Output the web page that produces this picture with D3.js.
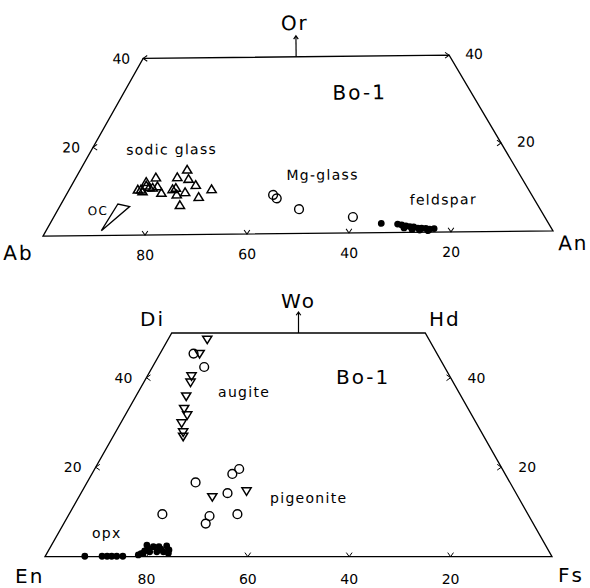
<!DOCTYPE html>
<html>
<head>
<meta charset="utf-8">
<script src="https://cdn.jsdelivr.net/npm/d3@7"></script>
<style>
  body { margin: 0; background: #fff; }
  svg text { font-family: "DejaVu Sans", sans-serif; fill: #000; }
  .apex { font-size: 20px; letter-spacing: 2px; }
  .tick { font-size: 14px; }
  .note { font-size: 14px; letter-spacing: 1.3px; }
  .frame { fill: none; stroke: #000; stroke-width: 1.3; }
</style>
</head>
<body>
<div id="chart"></div>
<script>
// feldspar plot: [Ab, Or] in mol %, An = 100 - Ab - Or
var sodicGlass = [
  [73.7, 11.9], [71.3, 12.9], [75.6, 10.2], [75.5, 9.8], [73.7, 10.7], [73.1, 10.6],
  [72.0, 10.9], [72.0, 9.4], [67.1, 12.9], [64.3, 14.6], [65.1, 12.5], [64.4, 11.1],
  [69.4, 10.2], [68.6, 10.5], [69.2, 9.0], [67.3, 9.5], [65.2, 8.4], [61.8, 10.1],
  [69.8, 6.6], [76.2, 10.2], [74.1, 11.1]
];
var mgGlass = [[50.4, 8.8], [50.1, 8.0], [47.0, 5.5], [37.4, 3.6]];
var feldspar = [
  [32.6, 2.1], [29.5, 1.9], [28.8, 1.7], [28.1, 1.45], [27.4, 1.3], [26.7, 1.2],
  [26.0, 0.95], [25.3, 0.9], [24.5, 0.85], [23.8, 0.7], [22.9, 0.8], [28.7, 1.0],
  [27.3, 0.65], [25.9, 0.5], [24.3, 0.35]
];
var ocField = [[88.0, 1.1], [81.7, 7.1], [79.7, 6.5]];

// pyroxene plot: [En, Wo] in mol %, Fs = 100 - En - Wo
var augiteTri = [
  [43.7, 48.6], [46.8, 45.4], [50.9, 40.4], [51.8, 39.0], [54.2, 35.9],
  [56.0, 33.1], [56.1, 31.7], [58.1, 29.9], [58.8, 27.9], [59.3, 26.9]
];
var augiteCirc = [[48.0, 45.4], [47.4, 42.4]];
var pigeoniteCirc = [
  [62.0, 16.6], [53.8, 18.5], [51.9, 19.6], [56.9, 14.2],
  [63.0, 9.1], [64.6, 7.4], [57.3, 9.5], [72.1, 9.5]
];
var pigeoniteTri = [[60.3, 13.4], [52.9, 14.7]];
var opx = [
  [92.1, 0.1], [88.7, 0.1], [87.7, 0.1], [86.8, 0.1], [85.8, 0.1], [84.6, 0.1],
  [81.4, 0.4], [80.3, 0.75], [78.6, 2.6], [78.8, 1.1], [77.5, 2.25], [77.4, 1.1],
  [76.4, 2.25], [76.1, 1.1], [74.8, 2.4], [75.3, 0.75], [74.8, 1.5], [78.8, 1.85],
  [76.3, 1.7], [80.7, 0.7], [79.7, 1.3]
];

var baseTicks = [80, 60, 40, 20];
var sideTicks = [20, 40];
var pxSideTicks = [20, 40];

var svg = d3.select("#chart").append("svg")
  .attr("width", 590)
  .attr("height", 588);

// scales: x takes (right-apex % + top % / 2), y takes top %
var xTop = d3.scaleLinear().domain([0, 100]).range([43, 553]);
var yTop = d3.scaleLinear().domain([0, 40]).range([233.5, 56.8]);
var xBot = d3.scaleLinear().domain([0, 100]).range([45, 552]);
var yBot = d3.scaleLinear().domain([0, 50]).range([556.7, 333]);

function posTop(d) { return [xTop(100 - d[0] - d[1] / 2), yTop(d[1])]; }
function posBot(d) { return [xBot(100 - d[0] - d[1] / 2), yBot(d[1])]; }

// small arrowhead tick, tip at p, pointing along angle a (degrees)
function arrowHead(p, a, len) {
  len = len || 5;
  var r = a * Math.PI / 180, s = 35 * Math.PI / 180;
  var b1 = [p[0] - len * Math.cos(r - s), p[1] - len * Math.sin(r - s)];
  var b2 = [p[0] - len * Math.cos(r + s), p[1] - len * Math.sin(r + s)];
  return "M" + b1 + "L" + p + "L" + b2;
}

function triUp(g, data, pos) {
  g.selectAll(null).data(data).enter().append("path")
    .attr("d", function(d) {
      var p = pos(d);
      return "M" + [p[0], p[1] - 4.8] + "L" + [p[0] + 4.6, p[1] + 2.9] + "L" + [p[0] - 4.6, p[1] + 2.9] + "Z";
    })
    .attr("fill", "none").attr("stroke", "#000").attr("stroke-width", 1.5);
}
function triDown(g, data, pos) {
  g.selectAll(null).data(data).enter().append("path")
    .attr("d", function(d) {
      var p = pos(d);
      return "M" + [p[0], p[1] + 4.4] + "L" + [p[0] + 4.6, p[1] - 3.1] + "L" + [p[0] - 4.6, p[1] - 3.1] + "Z";
    })
    .attr("fill", "none").attr("stroke", "#000").attr("stroke-width", 1.5);
}
function circles(g, data, pos) {
  g.selectAll(null).data(data).enter().append("circle")
    .attr("cx", function(d) { return pos(d)[0]; })
    .attr("cy", function(d) { return pos(d)[1]; })
    .attr("r", 4.4)
    .attr("fill", "none").attr("stroke", "#000").attr("stroke-width", 1.4);
}
function dots(g, data, pos) {
  g.selectAll(null).data(data).enter().append("circle")
    .attr("cx", function(d) { return pos(d)[0]; })
    .attr("cy", function(d) { return pos(d)[1]; })
    .attr("r", 3.4)
    .attr("fill", "#000");
}

// ---------- top: Ab - An - Or ----------
var topG = svg.append("g").attr("transform", "rotate(-0.6, 298, 234)");

var topFrame = [[100, 0], [0, 0], [0, 40], [60, 40]].map(posTop);
topG.append("path").attr("class", "frame").attr("d", "M" + topFrame.join("L") + "Z");

var topTicks = topG.append("g").attr("fill", "none").attr("stroke", "#000").attr("stroke-width", 1);
baseTicks.forEach(function(v) {
  topTicks.append("path").attr("d", arrowHead(posTop([v, 0]), 90));
  topG.append("text").attr("class", "tick").attr("text-anchor", "middle")
    .attr("x", posTop([v, 0])[0]).attr("y", posTop([v, 0])[1] + 25).text(v);
});
sideTicks.forEach(function(v) {
  var pl = posTop([100 - v, v]), pr = posTop([0, v]);
  topTicks.append("path").attr("d", arrowHead(pl, 180));
  topTicks.append("path").attr("d", arrowHead(pr, 0));
  topG.append("text").attr("class", "tick").attr("text-anchor", "end")
    .attr("x", pl[0] - 13).attr("y", pl[1] + 5).text(v);
  topG.append("text").attr("class", "tick").attr("text-anchor", "start")
    .attr("x", pr[0] + 16).attr("y", pr[1] + 4).text(v);
});

var orX = (topFrame[2][0] + topFrame[3][0]) / 2;
topG.append("line").attr("x1", orX).attr("x2", orX)
  .attr("y1", topFrame[2][1]).attr("y2", topFrame[2][1] - 20)
  .attr("stroke", "#000").attr("stroke-width", 1.2);
topG.append("path").attr("d", arrowHead([orX, topFrame[2][1] - 21], -90, 4))
  .attr("fill", "none").attr("stroke", "#000").attr("stroke-width", 1.2);

topG.append("text").attr("class", "apex").attr("x", orX - 1).attr("y", 30).attr("text-anchor", "middle").text("Or");
topG.append("text").attr("class", "apex").attr("x", 3).attr("y", 257).text("Ab");
topG.append("text").attr("class", "apex").attr("x", 558).attr("y", 253).text("An");
topG.append("text").attr("class", "apex").attr("x", 334).attr("y", 100).text("Bo-1");
topG.append("text").attr("class", "note").attr("x", 127).attr("y", 153).text("sodic glass");
topG.append("text").attr("class", "note").attr("x", 287).attr("y", 180).text("Mg-glass");
topG.append("text").attr("class", "note").attr("x", 410).attr("y", 206).text("feldspar");
topG.append("text").attr("class", "note").attr("x", 88).attr("y", 213).style("font-size", "12px").text("OC");

topG.append("path")
  .attr("d", "M" + ocField.map(posTop).join("L") + "Z")
  .attr("fill", "none").attr("stroke", "#000").attr("stroke-width", 1.3);

triUp(topG, sodicGlass, posTop);
circles(topG, mgGlass, posTop);
dots(topG, feldspar, posTop);

// ---------- bottom: En - Fs - Wo ----------
var botG = svg.append("g");

var botFrame = [[100, 0], [0, 0], [0, 50], [50, 50]].map(posBot);
botG.append("path").attr("class", "frame").attr("d", "M" + botFrame.join("L") + "Z");

var botTicks = botG.append("g").attr("fill", "none").attr("stroke", "#000").attr("stroke-width", 1);
baseTicks.forEach(function(v) {
  botTicks.append("path").attr("d", arrowHead(posBot([v, 0]), 90));
  botG.append("text").attr("class", "tick").attr("text-anchor", "middle")
    .attr("x", posBot([v, 0])[0]).attr("y", posBot([v, 0])[1] + 27).text(v);
});
pxSideTicks.forEach(function(v) {
  var pl = posBot([100 - v, v]), pr = posBot([0, v]);
  botTicks.append("path").attr("d", arrowHead(pl, 180));
  botTicks.append("path").attr("d", arrowHead(pr, 0));
  botG.append("text").attr("class", "tick").attr("text-anchor", "end")
    .attr("x", pl[0] - 14).attr("y", pl[1] + 5).text(v);
  botG.append("text").attr("class", "tick").attr("text-anchor", "start")
    .attr("x", pr[0] + 17).attr("y", pr[1] + 5).text(v);
});

var woX = (botFrame[2][0] + botFrame[3][0]) / 2;
botG.append("line").attr("x1", woX).attr("x2", woX)
  .attr("y1", botFrame[2][1]).attr("y2", botFrame[2][1] - 20)
  .attr("stroke", "#000").attr("stroke-width", 1.2);
botG.append("path").attr("d", arrowHead([woX, botFrame[2][1] - 21], -90, 4))
  .attr("fill", "none").attr("stroke", "#000").attr("stroke-width", 1.2);

botG.append("text").attr("class", "apex").attr("x", woX).attr("y", 308).attr("text-anchor", "middle").text("Wo");
botG.append("text").attr("class", "apex").attr("x", 140).attr("y", 326).text("Di");
botG.append("text").attr("class", "apex").attr("x", 429).attr("y", 326).text("Hd");
botG.append("text").attr("class", "apex").attr("x", 15).attr("y", 583).text("En");
botG.append("text").attr("class", "apex").attr("x", 558).attr("y", 582).text("Fs");
botG.append("text").attr("class", "apex").attr("x", 336).attr("y", 384).text("Bo-1");
botG.append("text").attr("class", "note").attr("x", 218).attr("y", 397).text("augite");
botG.append("text").attr("class", "note").attr("x", 270).attr("y", 503).text("pigeonite");
botG.append("text").attr("class", "note").attr("x", 92).attr("y", 538).text("opx");

triDown(botG, augiteTri, posBot);
circles(botG, augiteCirc, posBot);
circles(botG, pigeoniteCirc, posBot);
triDown(botG, pigeoniteTri, posBot);
dots(botG, opx, posBot);
</script>
</body>
</html>
